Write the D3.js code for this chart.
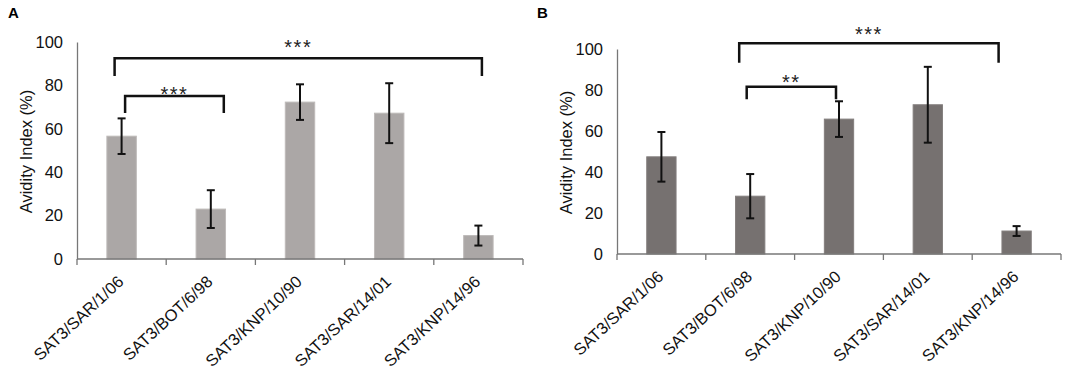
<!DOCTYPE html>
<html>
<head>
<meta charset="utf-8">
<script src="https://cdn.jsdelivr.net/npm/d3@7"></script>
<style>
  body { margin: 0; background: #fff; }
  svg text { font-family: Arial, "Liberation Sans", sans-serif; }
</style>
</head>
<body>
<svg id="chart" width="1084" height="371"></svg>
<script>
// strains, same order in both panels
const strains = ['SAT3/SAR/1/06', 'SAT3/BOT/6/98', 'SAT3/KNP/10/90', 'SAT3/SAR/14/01', 'SAT3/KNP/14/96'];

// panel A
const valuesA = [56.6, 23.0, 72.3, 67.2, 10.8];
const errorsA = [8.2, 8.7, 8.2, 13.8, 4.6];
// panel B
const valuesB = [47.4, 28.2, 65.8, 72.8, 11.2];
const errorsB = [12.1, 10.8, 8.7, 18.5, 2.4];

const yTicks = [0, 20, 40, 60, 80, 100];

// significance brackets: categories joined, bracket level, leg end, star height
const bracketsA = [
  { from: 0, to: 4, top: 92.5, leg: 84.3, starY: 99.4, label: '***' },
  { from: 0, to: 1, top: 75.1, leg: 67.3, starY: 78.0, label: '***' }
];
const bracketsB = [
  { from: 1, to: 4, top: 102.8, leg: 93.3, starY: 109.3, label: '***' },
  { from: 1, to: 2, top: 81.6, leg: 75.5, starY: 85.7, label: '**' }
];

const svg = d3.select('#chart');

const drawPanel = (props) => {
  const { letter, letterX, x0, x1, yBottom, yTop, values, errors, brackets, barColor, bracketShift, titleX } = props;

  const g = svg.append('g');

  const xScale = d3.scaleBand()
    .domain(strains)
    .range([x0, x1]);
  const yScale = d3.scaleLinear()
    .domain([0, 100])
    .range([yBottom, yTop]);
  const cx = i => xScale(strains[i]) + xScale.bandwidth() / 2;
  const barW = xScale.bandwidth() * 0.33;

  // panel letter
  g.append('text')
    .attr('x', letterX)
    .attr('y', 18)
    .attr('font-size', 15)
    .attr('font-weight', 'bold')
    .attr('fill', '#000')
    .text(letter);

  // bars
  g.selectAll('.bar').data(values)
    .enter().append('rect')
      .attr('class', 'bar')
      .attr('x', (d, i) => cx(i) - barW / 2)
      .attr('y', d => yScale(d))
      .attr('width', barW)
      .attr('height', d => yBottom - yScale(d))
      .attr('fill', barColor)
      .attr('stroke', d3.color(barColor).brighter(0.3))
      .attr('stroke-width', 1);

  // error bars
  const err = g.selectAll('.err').data(values)
    .enter().append('g')
      .attr('class', 'err')
      .attr('stroke', '#111')
      .attr('stroke-width', 2);
  err.append('line')
    .attr('x1', (d, i) => cx(i)).attr('x2', (d, i) => cx(i))
    .attr('y1', (d, i) => yScale(d + errors[i]))
    .attr('y2', (d, i) => yScale(d - errors[i]));
  err.append('line')
    .attr('x1', (d, i) => cx(i) - 4).attr('x2', (d, i) => cx(i) + 4)
    .attr('y1', (d, i) => yScale(d + errors[i]))
    .attr('y2', (d, i) => yScale(d + errors[i]));
  err.append('line')
    .attr('x1', (d, i) => cx(i) - 4).attr('x2', (d, i) => cx(i) + 4)
    .attr('y1', (d, i) => yScale(d - errors[i]))
    .attr('y2', (d, i) => yScale(d - errors[i]));

  // y axis
  const yAxis = d3.axisLeft(yScale)
    .tickValues(yTicks)
    .tickSize(0)
    .tickPadding(14);
  const yAxisG = g.append('g')
    .attr('transform', `translate(${x0}, 0)`)
    .call(yAxis);
  yAxisG.select('.domain').attr('stroke', '#777').attr('stroke-width', 1.3);
  yAxisG.selectAll('text')
    .attr('font-size', 16.5)
    .attr('font-family', 'Arial, "Liberation Sans", sans-serif')
    .attr('fill', '#111');

  // x axis with ticks on band edges
  const edges = strains.map(s => xScale(s)).concat([x1]);
  g.append('line')
    .attr('x1', x0).attr('x2', x1)
    .attr('y1', yBottom).attr('y2', yBottom)
    .attr('stroke', '#777').attr('stroke-width', 1.3);
  g.selectAll('.xtick').data(edges)
    .enter().append('line')
      .attr('class', 'xtick')
      .attr('x1', d => d).attr('x2', d => d)
      .attr('y1', yBottom).attr('y2', yBottom + 6)
      .attr('stroke', '#777').attr('stroke-width', 1.3);

  g.selectAll('.xlabel').data(strains)
    .enter().append('text')
      .attr('class', 'xlabel')
      .attr('text-anchor', 'end')
      .attr('font-size', 16.5)
      .attr('fill', '#111')
      .attr('transform', (d, i) => `translate(${cx(i) + 3}, ${yBottom + 24}) rotate(-43)`)
      .text(d => d);

  // axis title
  g.append('text')
    .attr('text-anchor', 'middle')
    .attr('font-size', 16.5)
    .attr('fill', '#111')
    .attr('transform', `translate(${titleX}, ${(yBottom + yTop) / 2 + 1}) rotate(-90)`)
    .text('Avidity Index (%)');

  // significance brackets
  brackets.forEach((b, k) => {
    const [sl, sr] = bracketShift[k];
    const xl = cx(b.from) + sl;
    const xr = cx(b.to) + sr;
    g.append('path')
      .attr('d', d3.line()([
        [xl, yScale(b.leg)], [xl, yScale(b.top)], [xr, yScale(b.top)], [xr, yScale(b.leg)]
      ]))
      .attr('fill', 'none')
      .attr('stroke', '#111')
      .attr('stroke-width', 2.5);
    g.append('text')
      .attr('x', (xl + xr) / 2)
      .attr('y', yScale(b.starY) + 11)
      .attr('text-anchor', 'middle')
      .attr('font-size', 20)
      .attr('letter-spacing', 1.5)
      .attr('fill', '#222')
      .text(b.label);
  });
};

drawPanel({
  letter: 'A', letterX: 8,
  x0: 77, x1: 523, yBottom: 259, yTop: 42,
  values: valuesA, errors: errorsA, brackets: bracketsA,
  barColor: '#aba7a6',
  bracketShift: [[-7, 3.5], [3.5, 13]],
  titleX: 32
});

drawPanel({
  letter: 'B', letterX: 537,
  x0: 617, x1: 1061, yBottom: 254, yTop: 49,
  values: valuesB, errors: errorsB, brackets: bracketsB,
  barColor: '#767170',
  bracketShift: [[-11, -18], [-3.5, -3]],
  titleX: 572
});
</script>
</body>
</html>
